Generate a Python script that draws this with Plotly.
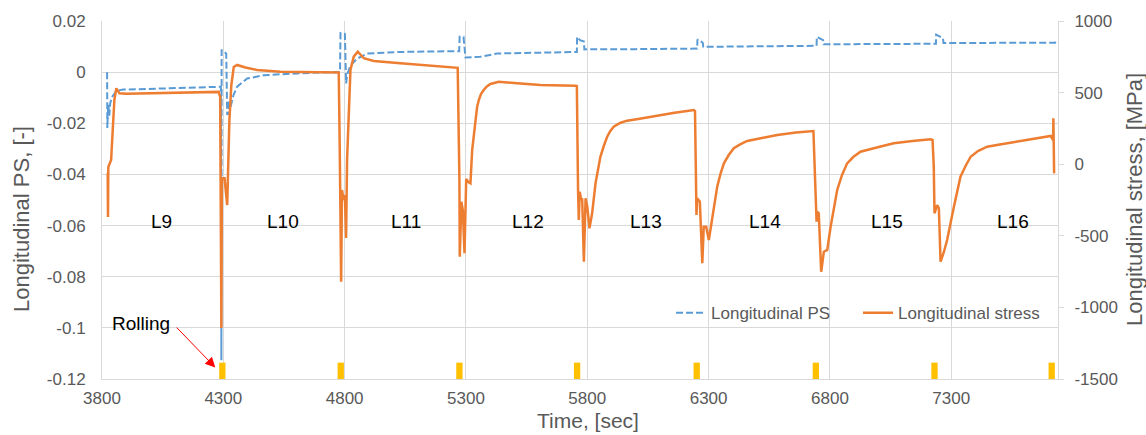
import plotly.graph_objects as go

# ---------------- data ----------------
# Longitudinal PS (left axis, dashed blue)
ps_time = [3821, 3822, 3826, 3830, 3834, 3843, 3860, 3887, 4052, 4283,
           4290, 4292, 4293, 4298, 4312, 4316, 4321, 4325, 4330, 4342, 4357, 4398, 4467, 4604, 4776,
           4781, 4783, 4801, 4806, 4810, 4824, 4852, 4893, 5030, 5264,
           5272, 5274, 5290, 5298, 5360, 5429, 5635, 5755,
           5757, 5758, 5770, 5786, 5788, 6000, 6250,
           6253, 6254, 6265, 6276, 6278, 6500, 6740,
           6745, 6746, 6760, 6772, 6774, 7000, 7234,
           7237, 7238, 7252, 7266, 7268, 7500, 7728, 7733]
ps_value = [0.0, -0.0218, -0.0125, -0.017, -0.012, -0.0095, -0.0073, -0.0068, -0.0064, -0.0057,
            -0.0057, -0.1127, 0.0086, 0.0086, 0.0072, -0.0168, -0.011, -0.0165, -0.0135, -0.009, -0.0057, -0.0025, -0.0012, -0.0005, 0.0001,
            0.0001, 0.0153, 0.015, -0.0044, -0.0012, 0.0027, 0.0053, 0.0073, 0.0079, 0.0082,
            0.0082, 0.0138, 0.0138, 0.0057, 0.006, 0.0073, 0.0077, 0.0079,
            0.0079, 0.0138, 0.0125, 0.012, 0.0089, 0.009, 0.0092,
            0.0092, 0.0128, 0.0122, 0.0115, 0.0099, 0.0101, 0.0103,
            0.0103, 0.0138, 0.013, 0.0125, 0.0109, 0.011, 0.0111,
            0.0111, 0.0147, 0.014, 0.0133, 0.0114, 0.0114, 0.0115, 0.0128]

# Longitudinal stress (right axis, solid orange), MPa
stress_time = [3823.5, 3824.7, 3826, 3837.5, 3845.8, 3851, 3859, 3872, 3900, 4000, 4150, 4281,
               4287, 4292, 4294, 4305, 4316, 4321, 4325, 4333, 4343, 4357, 4391, 4439, 4535, 4618, 4700, 4775.7,
               4780, 4785.6, 4789, 4796, 4801, 4806, 4810, 4817, 4824, 4837.5, 4854, 4879, 4920, 5030, 5150, 5266,
               5273, 5274.5, 5281, 5287, 5294, 5301, 5310, 5318.5, 5325.6, 5339, 5346, 5353, 5362, 5373, 5386, 5401, 5415, 5435, 5511, 5607, 5751,
               5757, 5762, 5765, 5769, 5775, 5779, 5786, 5793, 5800, 5809, 5820, 5834, 5854, 5868, 5882, 5895, 5909, 5935, 5964, 6010, 6074, 6160, 6239,
               6244, 6250, 6253, 6264, 6274, 6280, 6290, 6301, 6315, 6335.5, 6349, 6363, 6383, 6404, 6430, 6459, 6520, 6583, 6660, 6727,
               6732, 6745, 6748, 6754, 6764, 6775, 6789, 6803, 6830, 6850, 6871, 6896, 6926, 6985, 7063, 7140, 7215,
               7223, 7228, 7231, 7242, 7249, 7256, 7270, 7283, 7311, 7324, 7338, 7360, 7380, 7410, 7448, 7500, 7572, 7650, 7710, 7720, 7721, 7724]
stress_mpa = [-61, -368, -20, 29, 262, 448, 530, 495, 492, 496, 500, 505,
              470, -1144, -98, -98, -285, 99, 308, 553, 679, 693, 675, 658, 646, 644, 641, 640,
              78, -821, -180, -250, -215, -515, 29, 427, 658, 751, 786, 740, 721, 705, 690, 673,
              -110, -646, -262, -320, -622, -103, -124, -133, 99, 332, 400, 448, 490, 518, 543, 560, 568, 576, 565, 553, 548,
              546, -180, -390, -192, -250, -238, -681, -238, -297, -448, -343, -133, 52, 127, 192, 232, 262, 288, 304, 316, 337, 360, 378,
              371, -355, -238, -262, -692, -436, -436, -529, -390, -157, -68, 6, 64, 111, 138, 162, 183, 204, 222, 234,
              232, -402, -332, -343, -751, -611, -599, -436, -180, -75, 6, 50, 87, 113, 146, 162, 174,
              169, -17, -343, -285, -308, -681, -611, -529, -297, -187, -87, -9, 52, 92, 122, 138, 157, 180, 197, 169, 321, -64]

# Rolling events (yellow markers at the bottom)
rolling_time = [4296, 4784, 5273, 5758, 6251, 6742, 7231, 7714]
rolling_bar_height = 0.0064

# Pass labels
pass_labels = ["L9", "L10", "L11", "L12", "L13", "L14", "L15", "L16"]
pass_label_time = [4044, 4548, 5051, 5555, 6040, 6531, 7036, 7553]
pass_label_level = -0.0585

# Axes ticks
x_ticks = [3800, 4300, 4800, 5300, 5800, 6300, 6800, 7300]
left_ticks = [0.02, 0, -0.02, -0.04, -0.06, -0.08, -0.1, -0.12]
left_tick_text = ["0.02", "0", "-0.02", "-0.04", "-0.06", "-0.08", "-0.1", "-0.12"]
right_ticks = [1000, 500, 0, -500, -1000, -1500]
right_tick_text = ["1000", "500", "0", "-500", "-1000", "-1500"]

# ---------------- figure ----------------
FONT = "Liberation Sans, Arial, sans-serif"
GRAY = "#595959"
GRID = "#D9D9D9"

fig = go.Figure()

fig.add_trace(go.Bar(
    x=rolling_time, y=[rolling_bar_height] * len(rolling_time), base=-0.12,
    width=26, marker=dict(color="#FFC000", line=dict(width=0)),
    showlegend=False, hoverinfo="skip", yaxis="y"))

fig.add_trace(go.Scatter(
    x=ps_time, y=ps_value, mode="lines", name="Longitudinal PS",
    line=dict(color="#5B9BD5", width=2, dash="7px,3px"), yaxis="y", legend="legend"))

fig.add_trace(go.Scatter(
    x=stress_time, y=stress_mpa, mode="lines", name="Longitudinal stress",
    line=dict(color="#ED7D31", width=2.5), yaxis="y2", legend="legend2"))

annotations = []
for lab, t in zip(pass_labels, pass_label_time):
    annotations.append(dict(x=t, y=pass_label_level, xref="x", yref="y", text=lab,
                            showarrow=False, font=dict(family=FONT, size=19, color="#000000")))

annotations.append(dict(x=3960, y=-0.0983, xref="x", yref="y", text="Rolling",
                        showarrow=False, font=dict(family=FONT, size=19, color="#000000")))
annotations.append(dict(x=4267, y=-0.1155, xref="x", yref="y", ax=4102, ay=-0.0993,
                        axref="x", ayref="y", text="", showarrow=True, arrowhead=2,
                        arrowsize=2, arrowwidth=1, arrowcolor="#FF0000",
                        standoff=0, startstandoff=0))

# axis titles
annotations.append(dict(x=0.5084, y=-0.1173, xref="paper", yref="paper", text="Time, [sec]",
                        showarrow=False, xanchor="center", yanchor="middle",
                        font=dict(family=FONT, size=21, color=GRAY)))
annotations.append(dict(x=-0.0837, y=0.447, xref="paper", yref="paper", text="Longitudinal PS, [-]",
                        showarrow=False, textangle=-90, xanchor="center", yanchor="middle",
                        font=dict(family=FONT, size=22, color=GRAY)))
annotations.append(dict(x=1.0795, y=0.5, xref="paper", yref="paper", text="Longitudinal stress, [MPa]",
                        showarrow=False, textangle=-90, xanchor="center", yanchor="middle",
                        font=dict(family=FONT, size=22, color=GRAY)))

legend_common = dict(orientation="h", y=0.1835, xanchor="left", yanchor="middle",
                     bgcolor="rgba(0,0,0,0)", font=dict(family=FONT, size=17, color=GRAY))

fig.update_layout(
    width=1146, height=435,
    margin=dict(l=102, r=88, t=21, b=56, pad=0),
    paper_bgcolor="white", plot_bgcolor="white",
    font=dict(family=FONT, size=17, color=GRAY),
    barmode="overlay",
    xaxis=dict(range=[3800, 7740], tickvals=x_ticks, ticktext=[str(v) for v in x_ticks],
               showgrid=True, gridcolor=GRID, gridwidth=1, zeroline=False,
               showline=True, linecolor=GRID, linewidth=1, ticks="", ticklabelstandoff=4,
               tickfont=dict(family=FONT, size=17, color=GRAY)),
    yaxis=dict(range=[-0.12, 0.02], tickvals=left_ticks, ticktext=left_tick_text,
               showgrid=True, gridcolor=GRID, gridwidth=1, zeroline=False,
               showline=True, linecolor=GRID, linewidth=1, ticks="", ticklabelstandoff=12,
               tickfont=dict(family=FONT, size=17, color=GRAY)),
    yaxis2=dict(range=[-1500, 1000], tickvals=right_ticks, ticktext=right_tick_text,
                overlaying="y", side="right", showgrid=False, zeroline=False,
                showline=True, linecolor=GRID, linewidth=1, ticks="outside", ticklen=5,
                tickcolor=GRID, ticklabelstandoff=7,
                tickfont=dict(family=FONT, size=17, color=GRAY)),
    legend=dict(x=0.5952, **legend_common),
    legend2=dict(x=0.7908, **legend_common),
    annotations=annotations,
    showlegend=True,
)

fig.write_html("out.html")
